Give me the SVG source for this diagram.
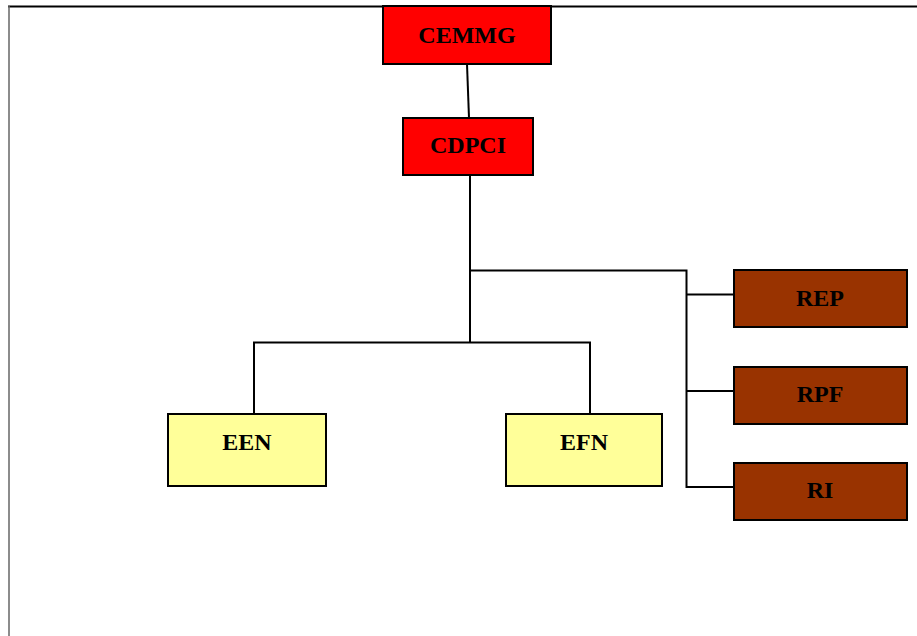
<svg xmlns="http://www.w3.org/2000/svg" width="917" height="636" viewBox="0 0 917 636">
  <style>
    .box { stroke: #000; stroke-width: 2; }
    .red { fill: #ff0000; }
    .brown { fill: #993300; }
    .yellow { fill: #ffff99; }
    .lbl { font-family: "Liberation Serif", "Times New Roman", serif; font-weight: bold; font-size: 24px; fill: #000; text-anchor: middle; }
    .wire { fill: none; stroke: #000; stroke-width: 2; }
  </style>
  <rect width="917" height="636" fill="#fff"/>
  <!-- page frame -->
  <line x1="8" y1="6.5" x2="917" y2="6.5" stroke="#000" stroke-width="2"/>
  <line x1="9" y1="6" x2="9" y2="636" stroke="#666" stroke-width="1.5"/>

  <g id="connectors">
    <line class="wire" x1="467" y1="64" x2="469" y2="118"/>
    <polyline class="wire" points="470,175 470,343"/>
    <polyline class="wire" points="470,270.5 686.5,270.5 686.5,487 734,487"/>
    <line class="wire" x1="686.5" y1="294.5" x2="734" y2="294.5"/>
    <line class="wire" x1="686.5" y1="391" x2="734" y2="391"/>
    <polyline class="wire" points="254,414 254,342.5 590,342.5 590,414"/>
  </g>

  <g id="CEMMG">
    <rect class="box red" x="383" y="6" width="168" height="58"/>
    <text class="lbl" x="467" y="43">CEMMG</text>
  </g>
  <g id="CDPCI">
    <rect class="box red" x="403" y="118" width="130" height="57"/>
    <text class="lbl" x="468" y="153">CDPCI</text>
  </g>
  <g id="REP">
    <rect class="box brown" x="734" y="270" width="173" height="57"/>
    <text class="lbl" x="820" y="306">REP</text>
  </g>
  <g id="RPF">
    <rect class="box brown" x="734" y="367" width="173" height="57"/>
    <text class="lbl" x="820" y="402">RPF</text>
  </g>
  <g id="RI">
    <rect class="box brown" x="734" y="463" width="173" height="57"/>
    <text class="lbl" x="820" y="498">RI</text>
  </g>
  <g id="EEN">
    <rect class="box yellow" x="168" y="414" width="158" height="72"/>
    <text class="lbl" x="247" y="450">EEN</text>
  </g>
  <g id="EFN">
    <rect class="box yellow" x="506" y="414" width="156" height="72"/>
    <text class="lbl" x="584" y="450">EFN</text>
  </g>
</svg>
